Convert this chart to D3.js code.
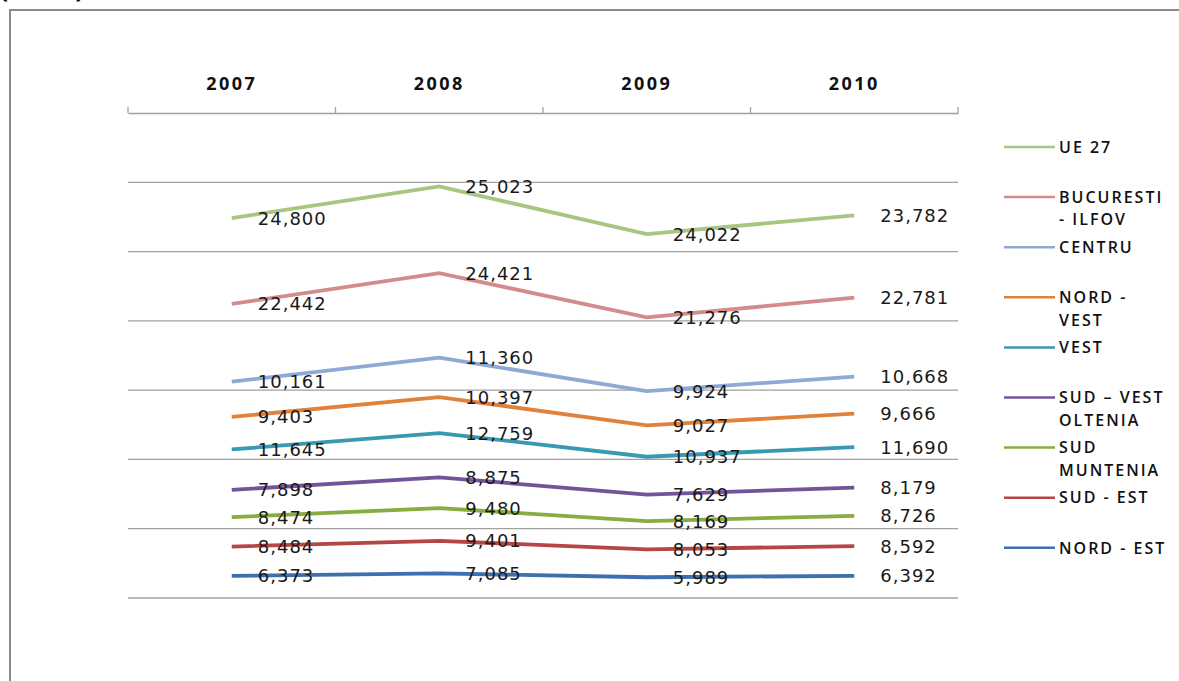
<!DOCTYPE html>
<html><head><meta charset="utf-8">
<script src="https://cdn.jsdelivr.net/npm/d3@7"></script>
<style>
html,body{margin:0;padding:0;background:#fff;overflow:hidden;}
svg{display:block;}
</style></head>
<body>
<svg id="chart" width="1179" height="681"></svg>
<script>
const years = ["2007", "2008", "2009", "2010"];
// stacking order: bottom first
const seriesNames = ["NORD - EST", "SUD - EST", "SUD MUNTENIA", "SUD – VEST OLTENIA", "VEST", "NORD - VEST", "CENTRU", "BUCURESTI - ILFOV", "UE 27"];
const nordEst = [6373, 7085, 5989, 6392];
const sudEst = [8484, 9401, 8053, 8592];
const sudMuntenia = [8474, 9480, 8169, 8726];
const sudVestOltenia = [7898, 8875, 7629, 8179];
const vest = [11645, 12759, 10937, 11690];
const nordVest = [9403, 10397, 9027, 9666];
const centru = [10161, 11360, 9924, 10668];
const bucurestiIlfov = [22442, 24421, 21276, 22781];
const ue27 = [24800, 25023, 24022, 23782];
const seriesValues = [nordEst, sudEst, sudMuntenia, sudVestOltenia, vest, nordVest, centru, bucurestiIlfov, ue27];
const seriesColors = ["#3e6fae", "#b64543", "#87ac3f", "#72549b", "#3899b2", "#e0823b", "#8eaad4", "#d38c8b", "#a9c680"];
const legendLines = [["UE 27"], ["BUCURESTI", "- ILFOV"], ["CENTRU"], ["NORD -", "VEST"], ["VEST"], ["SUD – VEST", "OLTENIA"], ["SUD", "MUNTENIA"], ["SUD - EST"], ["NORD - EST"]];
const gridTicks = [0, 20000, 40000, 60000, 80000, 100000, 120000];
const yMax = 140000;

const svg = d3.select("#chart");

// outer frame
svg.append("rect").attr("x", 10).attr("y", 10).attr("width", 1200).attr("height", 700)
  .attr("fill", "none").attr("stroke", "#8a8a8a").attr("stroke-width", 2);
// unit title, cut off at the very top as in the original
svg.append("text").attr("x", 0).attr("y", -2).attr("font-family", "Open Sans").attr("font-weight", "bold")
  .attr("font-size", 24).attr("letter-spacing", 6).attr("fill", "#000").text("(PPS)");

const x = d3.scaleBand().domain(years).range([128, 958]);
const y = d3.scaleLinear().domain([0, yMax]).range([598, 113]);

// gridlines
svg.append("g").selectAll("line").data(gridTicks).join("line")
  .attr("x1", 128).attr("x2", 958).attr("y1", d => y(d)).attr("y2", d => y(d))
  .attr("stroke", "#a0a0a0").attr("stroke-width", 1.3);

// category axis on top
const axis = svg.append("g").attr("transform", `translate(0,${y(yMax)})`)
  .call(d3.axisTop(x).tickSize(0).tickPadding(23));
axis.select(".domain").attr("stroke", "#a0a0a0").attr("stroke-width", 1.5);
axis.selectAll("text").attr("font-family", "Open Sans").attr("font-weight", "bold")
  .attr("font-size", 18).attr("letter-spacing", 2.5).attr("fill", "#111");
const edges = x.domain().map(d => x(d)).concat([x(years[years.length - 1]) + x.bandwidth()]);
svg.append("g").selectAll("line").data(edges).join("line")
  .attr("x1", d => d).attr("x2", d => d).attr("y1", y(yMax) - 6).attr("y2", y(yMax))
  .attr("stroke", "#a0a0a0").attr("stroke-width", 1.3);

// stacked cumulative values
const stacked = [];
let cum = years.map(() => 0);
seriesValues.forEach((vals, i) => {
  cum = cum.map((c, j) => c + vals[j]);
  stacked.push({ name: seriesNames[i], color: seriesColors[i], vals: vals, cum: cum.slice() });
});

const cx = yr => x(yr) + x.bandwidth() / 2;
const line = d3.line().x((d, j) => cx(years[j])).y(d => y(d));

svg.append("g").selectAll("path").data(stacked).join("path")
  .attr("d", d => line(d.cum)).attr("fill", "none")
  .attr("stroke", d => d.color).attr("stroke-width", 3.8).attr("stroke-linejoin", "miter");

// data labels (right of point)
const fmt = d3.format(",");
const lg = svg.append("g");
stacked.forEach(s => {
  s.vals.forEach((v, j) => {
    lg.append("text").attr("x", cx(years[j]) + 26).attr("y", y(s.cum[j]))
      .attr("dy", "0.36em").attr("font-family", "DejaVu Sans").attr("font-size", 18)
      .attr("letter-spacing", 1).attr("fill", "#1a1a1a").text(fmt(v));
  });
});

// legend
const leg = svg.append("g");
legendLines.forEach((lines, i) => {
  const ly = 147 + i * 50.1;
  const col = seriesColors[seriesColors.length - 1 - i];
  leg.append("line").attr("x1", 1004).attr("x2", 1055).attr("y1", ly).attr("y2", ly)
    .attr("stroke", col).attr("stroke-width", 2.5);
  lines.forEach((t, k) => {
    leg.append("text").attr("x", 1059).attr("y", ly + k * 22.5).attr("dy", "0.36em")
      .attr("font-family", "Open Sans").attr("font-weight", 600).attr("font-size", 16)
      .attr("letter-spacing", 2).attr("fill", "#111").text(t);
  });
});
</script>
</body></html>
